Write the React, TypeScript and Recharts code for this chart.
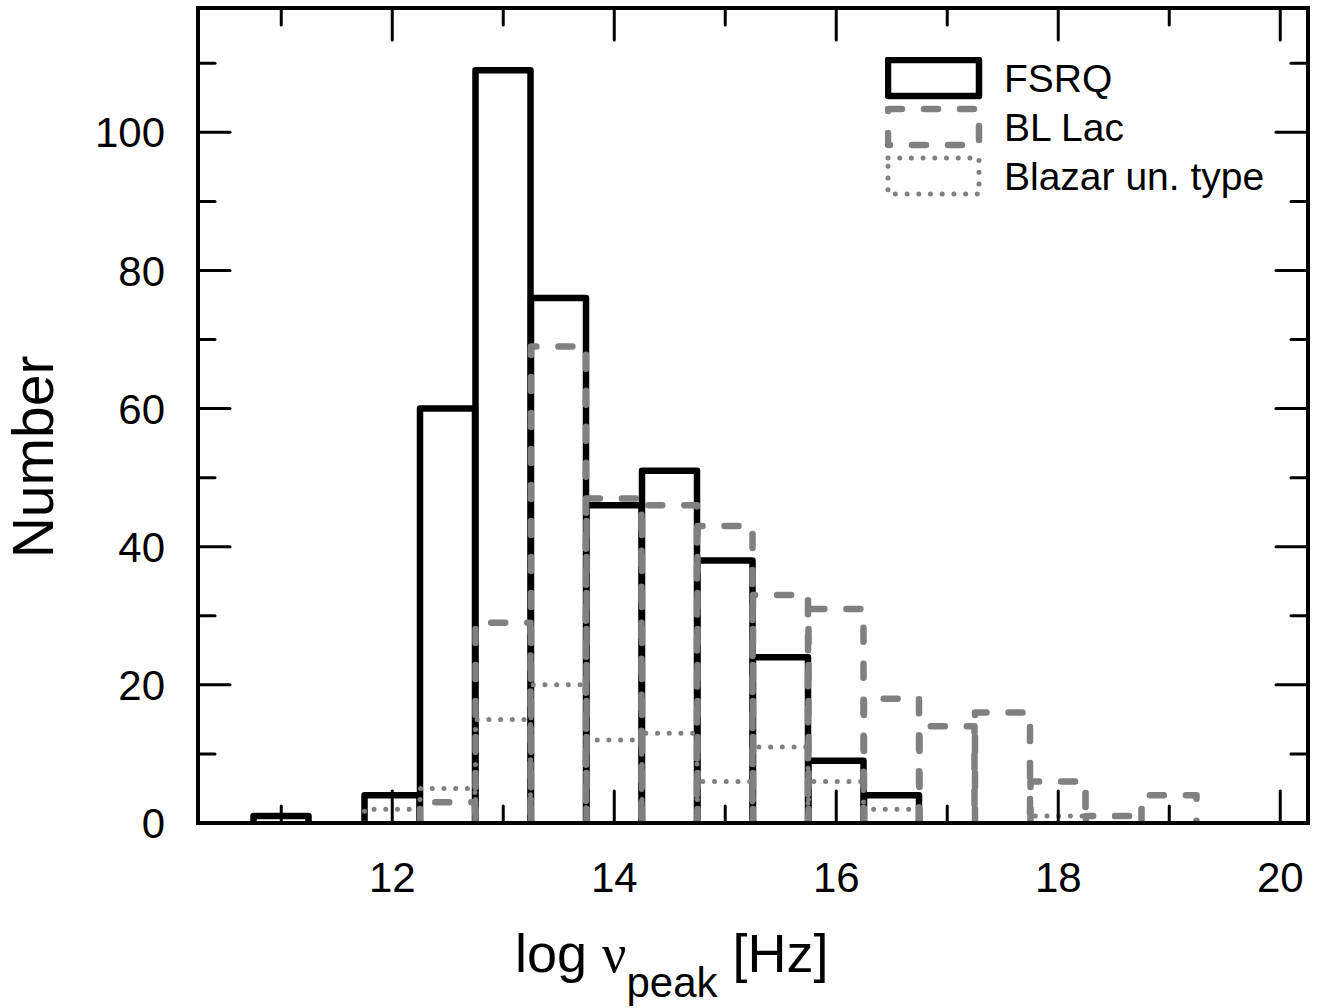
import { ComposedChart, Bar, XAxis, YAxis, Legend, Label } from "recharts";

// histogram bins (log nu_peak), width 0.5
const binCenters = [11, 11.5, 12, 12.5, 13, 13.5, 14, 14.5, 15, 15.5, 16, 16.5, 17, 17.5, 18, 18.5, 19];
const fsrqCounts = [1, 0, 4, 60, 109, 76, 46, 51, 38, 24, 9, 4, 0, 0, 0, 0, 0];
const blLacCounts = [0, 0, 0, 3, 29, 69, 47, 46, 43, 33, 31, 18, 14, 16, 6, 1, 4];
const unTypeCounts = [0, 0, 2, 5, 15, 20, 12, 13, 6, 11, 6, 2, 0, 0, 1, 0, 0];

const xTicks = [11, 12, 13, 14, 15, 16, 17, 18, 19, 20];
const yTicks = [0, 10, 20, 30, 40, 50, 60, 70, 80, 90, 100, 110];
const xDomain = [10.25, 20.25];
const yDomain = [0, 118];

const seriesNames = ["FSRQ", "BL Lac", "Blazar un. type"];

const FONT = "'Liberation Sans', Arial, sans-serif";
const GRAY = "#808080";
const MAJOR = 32;
const MINOR = 17;

const STYLES: Record<string, { stroke: string; strokeWidth: number; dash?: string }> = {
  FSRQ: { stroke: "#000", strokeWidth: 6.5 },
  "BL Lac": { stroke: GRAY, strokeWidth: 6.5, dash: "14 22" },
  "Blazar un. type": { stroke: GRAY, strokeWidth: 5, dash: "0 11.7" },
};

const data = binCenters.map((x, i) => ({
  x,
  fsrq: fsrqCounts[i],
  blLac: blLacCounts[i],
  unType: unTypeCounts[i],
}));

// open-bottom outline of one histogram bin
function makeShape(name: string) {
  const s = STYLES[name];
  return (props: any) => {
    const { x, y, width, height } = props;
    if (!height || height <= 0) return <g />;
    const d = `M${x},${y + height}V${y}H${x + width}V${y + height}`;
    return (
      <path
        d={d}
        fill="none"
        stroke={s.stroke}
        strokeWidth={s.strokeWidth}
        strokeDasharray={s.dash}
        strokeLinejoin="round"
        strokeLinecap="round"
      />
    );
  };
}

const tickLine = { stroke: "#000", strokeWidth: 3, strokeLinecap: "round" as const };
const axisLine = { stroke: "#000", strokeWidth: 4, strokeLinecap: "square" as const };

const BottomTick = (props: any) => {
  const { x, y, payload } = props;
  const v = payload.value;
  const major = v % 2 === 0;
  return (
    <g>
      <line x1={x} x2={x} y1={y} y2={y - (major ? MAJOR : MINOR)} {...tickLine} />
      {major && (
        <text x={x} y={y + 69} textAnchor="middle" fontSize={42} fontFamily={FONT} fill="#000">
          {v}
        </text>
      )}
    </g>
  );
};

const TopTick = (props: any) => {
  const { x, y, payload } = props;
  const major = payload.value % 2 === 0;
  return <line x1={x} x2={x} y1={y} y2={y + (major ? MAJOR : MINOR)} {...tickLine} />;
};

const LeftTick = (props: any) => {
  const { x, y, payload } = props;
  const v = payload.value;
  const major = v % 20 === 0;
  return (
    <g>
      <line x1={x} x2={x + (major ? MAJOR : MINOR)} y1={y} y2={y} {...tickLine} />
      {major && (
        <text x={x - 33} y={y} dy="0.36em" textAnchor="end" fontSize={42} fontFamily={FONT} fill="#000">
          {v}
        </text>
      )}
    </g>
  );
};

const RightTick = (props: any) => {
  const { x, y, payload } = props;
  const major = payload.value % 20 === 0;
  return <line x1={x} x2={x - (major ? MAJOR : MINOR)} y1={y} y2={y} {...tickLine} />;
};

const XTitle = () => (
  <text x={515} y={972} fontSize={54} fontFamily={FONT} fill="#000">
    <tspan>log </tspan>
    <tspan fontFamily="'Liberation Serif', serif">ν</tspan>
    <tspan fontSize={42} dy={25}>peak</tspan>
    <tspan dy={-25}> [Hz]</tspan>
  </text>
);

const YTitle = () => (
  <text
    x={53}
    y={457}
    transform="rotate(-90, 53, 457)"
    textAnchor="middle"
    fontSize={57}
    fontFamily={FONT}
    fill="#000"
  >
    Number
  </text>
);

const LegendBox = () => (
  <svg width={430} height={150} style={{ display: "block" }}>
    {seriesNames.map((name, i) => {
      const s = STYLES[name];
      const top = 3 + i * 49;
      return (
        <g key={name}>
          <rect
            x={3}
            y={top}
            width={91}
            height={36}
            fill="none"
            stroke={s.stroke}
            strokeWidth={s.strokeWidth}
            strokeDasharray={s.dash}
            strokeLinejoin="round"
            strokeLinecap="round"
          />
          <text x={119} y={top + 32} fontSize={39} fontFamily={FONT} fill="#000">
            {name}
          </text>
        </g>
      );
    })}
  </svg>
);

export default function App() {
  return (
    <div style={{ position: "absolute", left: 0, top: 0, width: 1330, height: 1008, background: "#fff" }}>
      <ComposedChart
        width={1330}
        height={1008}
        data={data}
        margin={{ top: 7, right: 21, bottom: 85, left: 138 }}
        barCategoryGap={0}
        barGap={0}
        style={{ fontFamily: FONT }}
      >
        <XAxis
          xAxisId="bottom"
          dataKey="x"
          type="number"
          domain={xDomain}
          ticks={xTicks}
          interval={0}
          allowDataOverflow
          height={100}
          tickSize={0}
          tickMargin={0}
          tickLine={false}
          axisLine={axisLine}
          tick={(p: any) => <BottomTick {...p} />}
        >
          <Label content={() => <XTitle />} />
        </XAxis>
        <XAxis xAxisId="zbl" dataKey="x" type="number" domain={xDomain} allowDataOverflow hide height={0} />
        <XAxis xAxisId="zun" dataKey="x" type="number" domain={xDomain} allowDataOverflow hide height={0} />
        <XAxis
          xAxisId="top"
          orientation="top"
          dataKey="x"
          type="number"
          domain={xDomain}
          ticks={xTicks}
          interval={0}
          allowDataOverflow
          height={1}
          tickSize={0}
          tickMargin={0}
          tickLine={false}
          axisLine={axisLine}
          tick={(p: any) => <TopTick {...p} />}
        />
        <YAxis
          yAxisId="left"
          type="number"
          domain={yDomain}
          ticks={yTicks}
          interval={0}
          allowDataOverflow
          width={60}
          tickSize={0}
          tickMargin={0}
          tickLine={false}
          axisLine={axisLine}
          tick={(p: any) => <LeftTick {...p} />}
        >
          <Label content={() => <YTitle />} />
        </YAxis>
        <YAxis
          yAxisId="right"
          orientation="right"
          type="number"
          domain={yDomain}
          ticks={yTicks}
          interval={0}
          allowDataOverflow
          width={1}
          tickSize={0}
          tickMargin={0}
          tickLine={false}
          axisLine={axisLine}
          tick={(p: any) => <RightTick {...p} />}
        />
        <Bar
          xAxisId="bottom"
          yAxisId="left"
          dataKey="fsrq"
          name={seriesNames[0]}
          fill="none"
          stroke="#000"
          shape={makeShape(seriesNames[0])}
          isAnimationActive={false}
        />
        <Bar
          xAxisId="zbl"
          yAxisId="left"
          dataKey="blLac"
          name={seriesNames[1]}
          fill="none"
          stroke={GRAY}
          shape={makeShape(seriesNames[1])}
          isAnimationActive={false}
        />
        <Bar
          xAxisId="zun"
          yAxisId="left"
          dataKey="unType"
          name={seriesNames[2]}
          fill="none"
          stroke={GRAY}
          shape={makeShape(seriesNames[2])}
          isAnimationActive={false}
        />
        <Legend
          layout="vertical"
          align="center"
          verticalAlign="middle"
          wrapperStyle={{ position: "absolute", left: 885, top: 57, width: 430, height: 150 }}
          content={() => <LegendBox />}
        />
      </ComposedChart>
    </div>
  );
}
